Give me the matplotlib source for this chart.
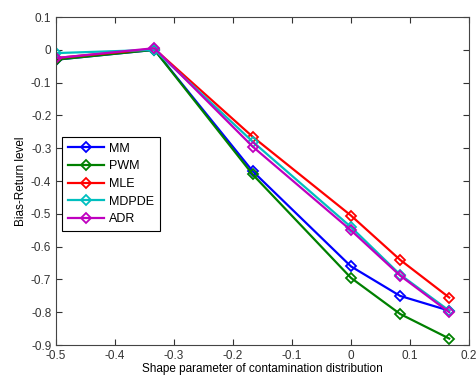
import numpy as np
import matplotlib.pyplot as plt

plt.rcParams['font.family'] = ['Liberation Sans', 'DejaVu Sans']

# shape parameter values
shape = [-0.5, -1/3, -1/6, 0.0, 1/12, 1/6]

mm = [-0.030, 0.000, -0.370, -0.660, -0.750, -0.795]
pwm = [-0.030, 0.000, -0.380, -0.695, -0.805, -0.880]
mle = [-0.025, 0.003, -0.265, -0.505, -0.640, -0.755]
mdpde = [-0.010, 0.000, -0.280, -0.540, -0.685, -0.795]
adr = [-0.025, 0.005, -0.295, -0.550, -0.688, -0.800]

series = [('MM', mm, '#0000ff'), ('PWM', pwm, '#008000'), ('MLE', mle, '#ff0000'),
          ('MDPDE', mdpde, '#00bfbf'), ('ADR', adr, '#bf00bf')]

fig = plt.figure(figsize=(4.76, 3.78), dpi=100)
ax = fig.add_axes([0.118, 0.087, 0.867, 0.868])

for name, vals, col in series:
    ax.plot(shape, vals, '-', color=col, marker='D', markersize=5.5,
            markerfacecolor='none', markeredgewidth=1.3, linewidth=1.6, label=name)

ax.set_xlim(-0.5, 0.2)
ax.set_ylim(-0.9, 0.1)
ax.set_xticks(np.arange(-0.5, 0.21, 0.1))
ax.set_yticks(np.arange(-0.9, 0.11, 0.1))
ax.set_xticklabels(['-0.5', '-0.4', '-0.3', '-0.2', '-0.1', '0', '0.1', '0.2'])
ax.set_yticklabels(['-0.9', '-0.8', '-0.7', '-0.6', '-0.5', '-0.4', '-0.3', '-0.2', '-0.1', '0', '0.1'])
ax.tick_params(direction='in', top=True, right=True, labelsize=8.5, length=4, colors='#333333')
ax.set_xlabel('Shape parameter of contamination distribution', fontsize=8.5, labelpad=1)
ax.set_ylabel('Bias-Return level', fontsize=8.5, labelpad=3)
for s in ax.spines.values():
    s.set_color('#444444')

leg = ax.legend(loc='upper left', bbox_to_anchor=(0.015, 0.634), borderaxespad=0,
                fontsize=9, fancybox=False, framealpha=1, edgecolor='black',
                handlelength=2.9, handletextpad=0.4, borderpad=0.45, labelspacing=0.45)
leg.get_frame().set_linewidth(0.8)

fig.savefig('out.png', dpi=100)
